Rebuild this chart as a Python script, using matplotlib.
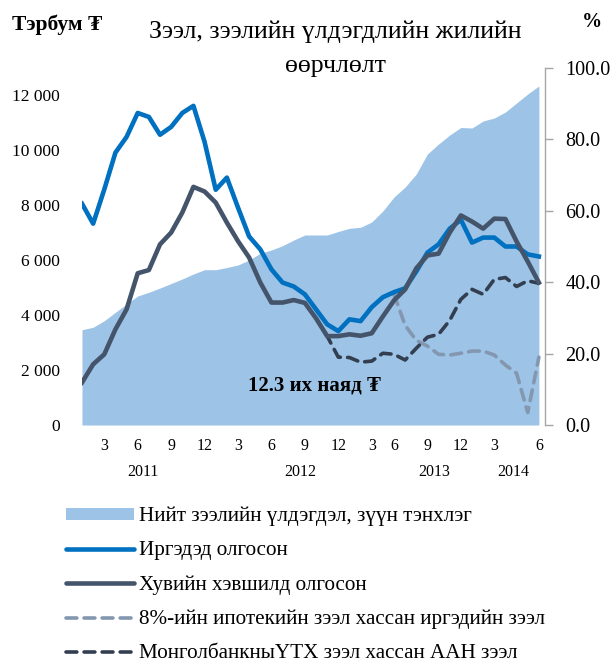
import matplotlib
matplotlib.use("Agg")
import matplotlib.pyplot as plt
from matplotlib.patches import Patch
from matplotlib.lines import Line2D
import numpy as np

plt.rcParams['font.family'] = ['Liberation Serif', 'DejaVu Serif']

# ---- data (monthly, 2011-01 .. 2014-06) ----
total_loans = [3465, 3553, 3793, 4098, 4400, 4690, 4825, 4980, 5145, 5310,
               5490, 5647, 5647, 5727, 5818, 6000, 6244, 6364, 6520, 6727,
               6909, 6909, 6909, 7036, 7153, 7189, 7382, 7782, 8290, 8654,
               9127, 9855, 10218, 10545, 10818, 10800, 11054, 11163, 11382,
               11709, 12036, 12327]
households = [62.0, 56.4, 66.0, 76.3, 80.7, 87.4, 86.3, 81.3, 83.5, 87.4,
              89.4, 79.3, 65.9, 69.3, 60.9, 52.8, 49.2, 43.6, 39.9, 38.8,
              36.6, 32.4, 28.2, 26.3, 29.6, 29.1, 33.0, 35.8, 37.2, 38.3,
              43.0, 48.3, 50.6, 55.0, 57.5, 51.1, 52.5, 52.5, 50.0, 50.0,
              47.8, 47.2]
private_sector = [11.9, 17.0, 19.8, 26.8, 32.4, 42.5, 43.4, 50.6, 53.9, 59.5,
                  66.7, 65.4, 62.3, 56.7, 51.5, 46.9, 39.9, 34.3, 34.3, 35.0,
                  34.2, 29.9, 24.9, 24.9, 25.4, 25.0, 25.7, 30.4, 34.9, 38.0,
                  43.9, 47.5, 48.0, 53.9, 58.7, 57.0, 55.0, 57.8, 57.7, 51.4,
                  45.8, 39.9]
# series starting later (index of first month)
mortgage_start = 28
households_ex_mortgage = [36.6, 27.9, 23.7, 22.1, 19.8, 19.6, 20.1, 20.7, 20.7,
                          19.6, 16.8, 14.5, 3.5, 19.0]
pss_start = 21
private_ex_pss = [29.9, 24.9, 19.0, 18.9, 17.6, 17.9, 20.1, 19.8, 18.2, 21.5,
                  24.6, 25.4, 29.3, 35.2, 38.0, 36.6, 40.8, 41.3, 38.8, 40.4,
                  39.7]

tick_idx = [2, 5, 8, 11, 14, 17, 20, 23, 26, 28, 31, 34, 37, 41]
tick_labels = ['3', '6', '9', '12', '3', '6', '9', '12', '3', '6', '9', '12', '3', '6']
year_labels = ['2011', '2012', '2013', '2014']
year_pos = [5.45, 19.6, 31.6, 38.7]

left_ticks = [0, 2000, 4000, 6000, 8000, 10000, 12000]
right_ticks = [0, 20, 40, 60, 80, 100]

legend_labels = ['Нийт зээлийн үлдэгдэл, зүүн тэнхлэг',
                 'Иргэдэд олгосон',
                 'Хувийн хэвшилд олгосон',
                 '8%-ийн ипотекийн зээл хассан иргэдийн зээл',
                 'МонголбанкныҮТХ зээл хассан ААН зээл']

c_area = '#9DC3E6'
c_blue = '#0070C0'
c_dark = '#44546A'
c_light = '#8497B0'
c_dd = '#333F50'

fig = plt.figure(figsize=(6.11, 6.66), dpi=100)
ax = fig.add_axes([82/611, 1-425/666, (545-82)/611, (425-68)/666])
ax2 = ax.twinx()

x = np.arange(len(total_loans))
ax.fill_between(x, 0, total_loans, color=c_area, linewidth=0, zorder=1)
ax.set_ylim(0, 12982)
ax.set_xlim(0, 41.55)
ax.set_yticks(left_ticks)
ax.set_yticklabels([f"{v:,}".replace(',', ' ') for v in left_ticks])
ax.tick_params(axis='y', length=0, pad=16, labelsize=12.5)
ax.set_xticks(tick_idx)
ax.set_xticklabels(tick_labels)
ax.tick_params(axis='x', length=0, pad=9, labelsize=11.5)
for s in ax.spines.values():
    s.set_visible(False)

lw_solid = 3.3
lw_dash = 2.6
dash = (3.0, 2.0)
ax2.plot(x, households, color=c_blue, lw=lw_solid, solid_joinstyle='round', zorder=4)
ax2.plot(x, private_sector, color=c_dark, lw=lw_solid, solid_joinstyle='round', zorder=4)
xm = np.arange(mortgage_start, mortgage_start + len(households_ex_mortgage))
ax2.plot(xm, households_ex_mortgage, color=c_light, lw=lw_dash, dashes=dash,
         dash_capstyle='round', zorder=3)
xp = np.arange(pss_start, pss_start + len(private_ex_pss))
ax2.plot(xp, private_ex_pss, color=c_dd, lw=lw_dash, dashes=dash,
         dash_capstyle='round', zorder=3)
ax2.set_ylim(0, 100)
ax2.set_yticks(right_ticks)
ax2.set_yticklabels([f"{v:.1f}" for v in right_ticks])
ax2.tick_params(axis='y', direction='out', length=6, width=1, color='#A6A6A6',
                pad=8.5, labelsize=14.5)
for k, s in ax2.spines.items():
    s.set_visible(k == 'right')
ax2.spines['right'].set_color('#A6A6A6')
ax2.spines['right'].set_linewidth(1)

for lab, p in zip(year_labels, year_pos):
    ax.text(p, -0.132, lab, transform=ax.get_xaxis_transform(), ha='center',
            va='center', fontsize=11.5)

ax.text(314/611, 1-386/666, '12.3 их наяд ₮', transform=fig.transFigure,
        ha='center', va='center', fontsize=15, fontweight='bold', zorder=6)

fig.text(335/611, 1-32/666, 'Зээл, зээлийн үлдэгдлийн жилийн', ha='center',
         va='center', fontsize=18.6)
fig.text(335/611, 1-66/666, 'өөрчлөлт', ha='center', va='center', fontsize=18.6)
fig.text(57/611, 1-25/666, 'Тэрбум ₮', ha='center', va='center', fontsize=15.5,
         fontweight='bold')
fig.text(592/611, 1-22/666, '%', ha='center', va='center', fontsize=14.5,
         fontweight='bold')

handles = [Patch(facecolor=c_area, edgecolor='none'),
           Line2D([], [], color=c_blue, lw=lw_solid, solid_capstyle='round'),
           Line2D([], [], color=c_dark, lw=lw_solid, solid_capstyle='round'),
           Line2D([], [], color=c_light, lw=lw_dash, dashes=dash, dash_capstyle='round'),
           Line2D([], [], color=c_dd, lw=lw_dash, dashes=dash, dash_capstyle='round')]
fig.legend(handles, legend_labels, loc='upper left',
           bbox_to_anchor=(66/611, 1-507/666), frameon=False, fontsize=15.2,
           handlelength=3.2, handletextpad=0.24, labelspacing=0.71,
           handleheight=0.55, borderpad=0, borderaxespad=0)

fig.savefig('out.png', dpi=100)
